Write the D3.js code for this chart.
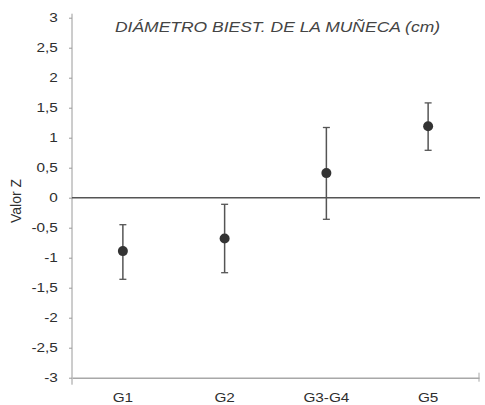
<!DOCTYPE html>
<html>
<head>
<meta charset="utf-8">
<script src="https://cdn.jsdelivr.net/npm/d3@7"></script>
<style>
  html, body { margin: 0; padding: 0; background: #ffffff; }
  svg { display: block; font-family: "Liberation Sans", Arial, sans-serif; }
</style>
</head>
<body>
<svg id="chart" width="485" height="405"></svg>
<script>
// Z-scores of wrist bi-styloid diameter by group, with interval limits
const groups = ["G1", "G2", "G3-G4", "G5"];
const means  = [-0.89, -0.68, 0.41, 1.19];
const upper  = [-0.45, -0.11, 1.17, 1.58];
const lower  = [-1.36, -1.25, -0.36, 0.79];
const yTicks = [3, 2.5, 2, 1.5, 1, 0.5, 0, -0.5, -1, -1.5, -2, -2.5, -3];
const titleText = "DIÁMETRO BIEST. DE LA MUÑECA (cm)";
const yLabel = "Valor Z";

const svg = d3.select("#chart");
const plotLeft = 72, plotRight = 479, plotTop = 17.7, plotBottom = 377.7;

const x = d3.scaleBand().domain(groups).range([plotLeft, plotRight]).padding(0);
const y = d3.scaleLinear().domain([-3, 3]).range([plotBottom, plotTop]);

const textColor = "#2e2e2e";
const fmt = d => String(d).replace(".", ",");

// Y axis
const yAxis = svg.append("g")
  .attr("transform", `translate(${plotLeft},0)`)
  .call(d3.axisLeft(y).tickValues(yTicks).tickFormat(fmt).tickSize(3).tickPadding(9).tickSizeOuter(0));
yAxis.select(".domain").attr("stroke", "#9a9a9a").attr("stroke-width", 1)
  .attr("d", `M0,${plotTop - 4}V${plotBottom + 7}`);
yAxis.selectAll(".tick line").attr("stroke", "#9a9a9a");
yAxis.selectAll(".tick text")
  .attr("fill", textColor)
  .attr("font-size", 13)
  .attr("transform", "scale(1.18,1)");

// X axis along the bottom
const xAxis = svg.append("g")
  .attr("transform", `translate(0,${plotBottom})`)
  .call(d3.axisBottom(x).tickSize(0).tickPadding(15).tickSizeOuter(0));
xAxis.select(".domain").attr("stroke", "#a8a8a8").attr("stroke-width", 1.4);
xAxis.selectAll(".tick text")
  .attr("fill", textColor)
  .attr("font-size", 13)
  .attr("transform", "scale(1.18,1)");
// end mark at the right of the category axis
xAxis.append("line")
  .attr("x1", plotRight).attr("x2", plotRight)
  .attr("y1", -5).attr("y2", 4)
  .attr("stroke", "#a8a8a8").attr("stroke-width", 1);

// Zero reference line
svg.append("line")
  .attr("x1", plotLeft).attr("x2", plotRight + 1)
  .attr("y1", y(0)).attr("y2", y(0))
  .attr("stroke", "#555555").attr("stroke-width", 1.6);

// Error bars
const cx = g => x(g) + x.bandwidth() / 2;
const bars = svg.append("g").selectAll("g")
  .data(groups.map((g, i) => ({ g, m: means[i], hi: upper[i], lo: lower[i] })))
  .join("g");
bars.append("line")
  .attr("x1", d => cx(d.g)).attr("x2", d => cx(d.g))
  .attr("y1", d => y(d.hi)).attr("y2", d => y(d.lo))
  .attr("stroke", "#555555").attr("stroke-width", 1.5);
bars.append("line")
  .attr("x1", d => cx(d.g) - 3.5).attr("x2", d => cx(d.g) + 3.5)
  .attr("y1", d => y(d.hi)).attr("y2", d => y(d.hi))
  .attr("stroke", "#555555").attr("stroke-width", 1.3);
bars.append("line")
  .attr("x1", d => cx(d.g) - 3.5).attr("x2", d => cx(d.g) + 3.5)
  .attr("y1", d => y(d.lo)).attr("y2", d => y(d.lo))
  .attr("stroke", "#555555").attr("stroke-width", 1.3);
bars.append("circle")
  .attr("cx", d => cx(d.g)).attr("cy", d => y(d.m))
  .attr("r", 5)
  .attr("fill", "#333333");

// Title
svg.append("text")
  .attr("x", 115).attr("y", 31.5)
  .attr("font-size", 13.8)
  .attr("font-style", "italic")
  .attr("fill", "#444444")
  .attr("textLength", 325)
  .attr("lengthAdjust", "spacingAndGlyphs")
  .text(titleText);

// Y axis title
svg.append("text")
  .attr("transform", "translate(21,201) rotate(-90)")
  .attr("text-anchor", "middle")
  .attr("font-size", 14)
  .attr("fill", textColor)
  .text(yLabel);
</script>
</body>
</html>
